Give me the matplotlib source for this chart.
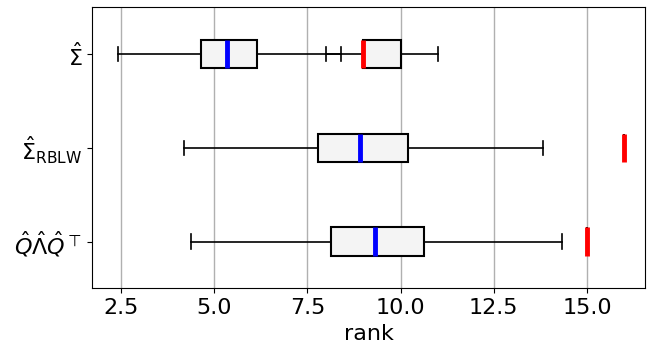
import matplotlib
matplotlib.use("Agg")
import matplotlib.pyplot as plt

# rows from bottom to top
labels = [r"$\hat{Q}\hat{\Lambda}\hat{Q}^{\top}$", r"$\hat{\Sigma}_{\mathrm{RBLW}}$", r"$\hat{\Sigma}$"]
positions = [1, 2, 3]

# estimated rank distribution (blue median)
est_whislo = [4.39, 4.20, 2.43]
est_q1 = [8.13, 7.79, 4.66]
est_med = [9.31, 8.91, 5.34]
est_q3 = [10.63, 10.20, 6.16]
est_whishi = [14.34, 13.82, 8.39]

# reference rank (red median)
ref_whislo = [15.0, 16.0, 8.01]
ref_q1 = [15.0, 16.0, 9.0]
ref_med = [15.0, 16.0, 9.0]
ref_q3 = [15.0, 16.0, 10.0]
ref_whishi = [15.0, 16.0, 11.0]


def stats(lo, q1, med, q3, hi):
    return [dict(whislo=a, q1=b, med=c, q3=d, whishi=e, fliers=[])
            for a, b, c, d, e in zip(lo, q1, med, q3, hi)]


fig, ax = plt.subplots(figsize=(6.47, 3.47), dpi=100)
box_kw = dict(facecolor="#f4f4f4", edgecolor="black", linewidth=1.5)
line_kw = dict(color="black", linewidth=1.2)
ax.bxp(stats(est_whislo, est_q1, est_med, est_q3, est_whishi), positions=positions,
       vert=False, patch_artist=True, widths=0.3, boxprops=box_kw,
       whiskerprops=line_kw, capprops=line_kw,
       medianprops=dict(color="blue", linewidth=3.5))
ax.bxp(stats(ref_whislo, ref_q1, ref_med, ref_q3, ref_whishi), positions=positions,
       vert=False, patch_artist=True, widths=0.3, boxprops=box_kw,
       whiskerprops=line_kw, capprops=line_kw,
       medianprops=dict(color="red", linewidth=3.5))

ax.set_yticks(positions)
ax.set_yticklabels(labels)
ax.set_xticks([2.5, 5.0, 7.5, 10.0, 12.5, 15.0])
ax.set_xlim(1.72, 16.56)
ax.set_ylim(0.5, 3.5)
ax.xaxis.grid(True, color="#b0b0b0", linewidth=1)
ax.set_axisbelow(True)
ax.tick_params(labelsize=16)
ax.set_xlabel("rank", fontsize=16)

fig.subplots_adjust(left=0.142, right=0.997, bottom=0.169, top=0.979)
fig.savefig("out.png", dpi=100)
